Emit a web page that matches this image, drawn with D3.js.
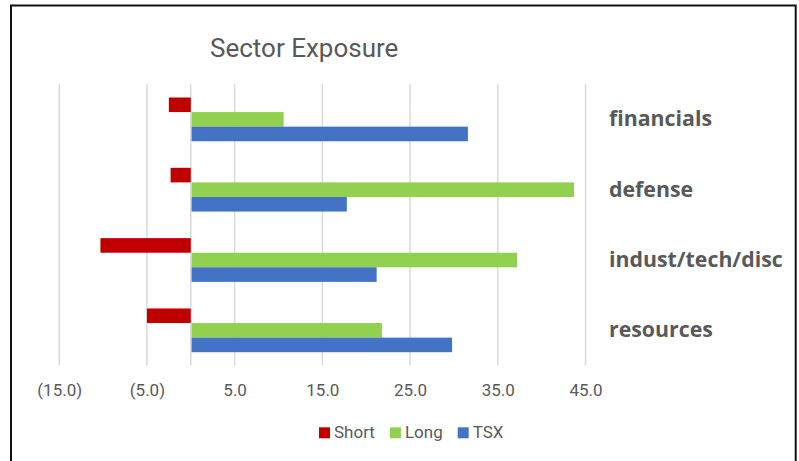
<!DOCTYPE html>
<html>
<head>
<meta charset="utf-8">
<script src="https://cdn.jsdelivr.net/npm/d3@7"></script>
<style>
  html, body { margin: 0; padding: 0; background: #fff; }
  svg { display: block; }
</style>
</head>
<body>
<svg id="chart" width="799" height="461"></svg>
<script>
// ---- data ----
const categories = ["financials", "defense", "indust/tech/disc", "resources"];
const seriesNames = ["Short", "Long", "TSX"];
const shortValues = [-2.5, -2.3, -10.3, -5.0];
const longValues = [10.5, 43.6, 37.1, 21.7];
const tsxValues = [31.5, 17.7, 21.1, 29.7];
const tickValues = [-15, -5, 5, 15, 25, 35, 45];
const title = "Sector Exposure";

const seriesColors = ["#C00000", "#92D050", "#4472C4"];
const seriesData = [shortValues, longValues, tsxValues];

const svg = d3.select("#chart");
const textColor = "#595959";

// border
svg.append("rect")
  .attr("x", 11).attr("y", 5.5)
  .attr("width", 784.7).attr("height", 470)
  .attr("fill", "none").attr("stroke", "#111").attr("stroke-width", 2);

const x = d3.scaleLinear().domain([-15, 45]).range([59.2, 585.5]);
const y = d3.scaleBand().domain(categories).range([84.2, 365.5])
  .paddingInner(0.378).paddingOuter(0.189);
const ys = d3.scaleBand().domain(seriesNames).range([0, y.bandwidth()]);

// gridlines
svg.append("g").selectAll("line").data(tickValues.concat([0])).join("line")
  .attr("x1", d => x(d)).attr("x2", d => x(d))
  .attr("y1", 84.2).attr("y2", 365.5)
  .attr("stroke", "#d9d9d9").attr("stroke-width", 1.5);

// bars
seriesNames.forEach((s, si) => {
  svg.append("g").selectAll("rect").data(categories).join("rect")
    .attr("x", (c, i) => x(Math.min(0, seriesData[si][i])) + (seriesData[si][i] >= 0 ? 0.8 : 0))
    .attr("y", c => y(c) + ys(s))
    .attr("width", (c, i) => Math.abs(x(seriesData[si][i]) - x(0)))
    .attr("height", ys.bandwidth())
    .attr("fill", seriesColors[si]);
});

// axis tick labels
const fmt = d => d < 0 ? "(" + d3.format(".1f")(-d) + ")" : d3.format(".1f")(d);
const axis = d3.axisBottom(x).tickValues(tickValues).tickFormat(fmt).tickSize(0).tickPadding(0);
const ag = svg.append("g").attr("transform", "translate(0,383)").call(axis);
ag.select(".domain").remove();
ag.selectAll("text")
  .attr("font-family", "Roboto, sans-serif").attr("font-size", 17)
  .attr("fill", textColor).attr("dy", "0.76em");

// category labels
svg.append("g").selectAll("text").data(categories).join("text")
  .attr("x", 609)
  .attr("y", c => y(c) + y.bandwidth() / 2)
  .attr("dy", "0.33em")
  .attr("font-family", "'Open Sans', sans-serif").attr("font-weight", "bold")
  .attr("font-size", 21.3).attr("fill", textColor)
  .text(c => c);

// title
svg.append("text")
  .attr("x", 210).attr("y", 57)
  .attr("font-family", "Roboto, sans-serif").attr("font-size", 26)
  .attr("fill", textColor).text(title);

// legend
const lg = svg.append("g");
let lx = 319;
seriesNames.forEach((s, i) => {
  lg.append("rect").attr("x", lx).attr("y", 427.3).attr("width", 11).attr("height", 11)
    .attr("fill", seriesColors[i]);
  const t = lg.append("text").attr("x", lx + 15).attr("y", 437.8)
    .attr("font-family", "Roboto, sans-serif").attr("font-size", 17)
    .attr("fill", textColor).text(s);
  lx += 15 + t.node().getComputedTextLength() + 15;
});
</script>
</body>
</html>
